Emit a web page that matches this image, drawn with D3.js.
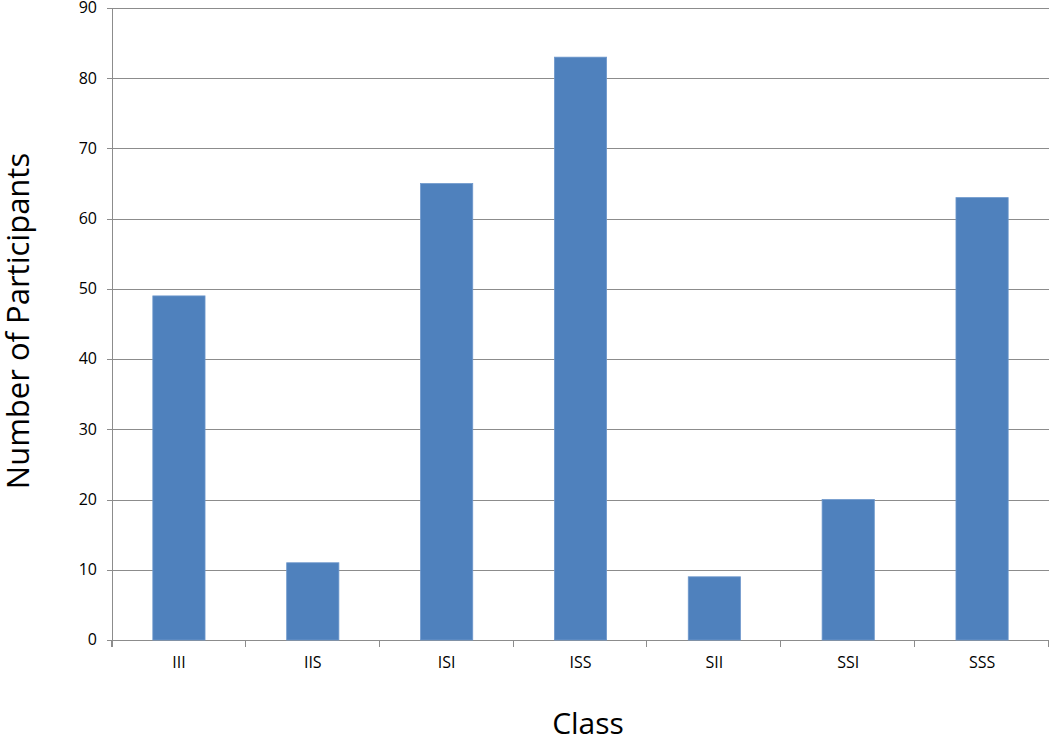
<!DOCTYPE html>
<html>
<head>
<meta charset="utf-8">
<script src="https://cdn.jsdelivr.net/npm/d3@7"></script>
<style>
body { margin: 0; background: #fff; }
text { font-family: "Open Sans", sans-serif; fill: #000; }
</style>
</head>
<body>
<div id="chart"></div>
<script>
var categories = ["III", "IIS", "ISI", "ISS", "SII", "SSI", "SSS"];
var participants = [49, 11, 65, 83, 9, 20, 63];
var yTicks = [0, 10, 20, 30, 40, 50, 60, 70, 80, 90];

var width = 1050,
    height = 744;
var margin = {top: 8, right: 1, bottom: 104, left: 112};

var svg = d3.select("#chart")
    .append("svg")
    .attr("width", width)
    .attr("height", height);

var x = d3.scaleBand()
    .domain(categories)
    .range([margin.left, width - margin.right])
    .paddingInner(0.61)
    .paddingOuter(0.305);

var y = d3.scaleLinear()
    .domain([0, 90])
    .range([height - margin.bottom, margin.top]);

// gridlines
svg.append("g")
    .selectAll("line")
    .data(yTicks)
    .enter().append("line")
    .attr("x1", margin.left - 5)
    .attr("x2", width - margin.right)
    .attr("y1", function (d) { return Math.round(y(d)) + 0.5; })
    .attr("y2", function (d) { return Math.round(y(d)) + 0.5; })
    .attr("stroke", "#8c8c8c")
    .attr("stroke-width", 1);

// y labels
svg.append("g")
    .selectAll("text")
    .data(yTicks)
    .enter().append("text")
    .attr("x", margin.left - 15)
    .attr("y", function (d) { return y(d); })
    .attr("dy", "0.33em")
    .attr("text-anchor", "end")
    .style("font-size", "16px")
    .text(function (d) { return d; });

// bars
svg.append("g")
    .selectAll("rect")
    .data(participants)
    .enter().append("rect")
    .attr("x", function (d, i) { return x(categories[i]); })
    .attr("width", x.bandwidth())
    .attr("y", function (d) { return y(d); })
    .attr("height", function (d) { return y(0) - y(d); })
    .attr("fill", "#4f81bd")
    .attr("stroke", "#6e98cc")
    .attr("stroke-width", 0.8);

// y axis line
svg.append("line")
    .attr("x1", margin.left + 0.5)
    .attr("x2", margin.left + 0.5)
    .attr("y1", y(90))
    .attr("y2", y(0) + 7)
    .attr("stroke", "#8c8c8c");

// x axis ticks at category boundaries
var step = x.step();
var bounds = d3.range(categories.length + 1).map(function (i) { return margin.left + i * step; });
svg.append("g")
    .selectAll("line")
    .data(bounds)
    .enter().append("line")
    .attr("x1", function (d) { return Math.round(d) - 0.5; })
    .attr("x2", function (d) { return Math.round(d) - 0.5; })
    .attr("y1", y(0))
    .attr("y2", y(0) + 7)
    .attr("stroke", "#8c8c8c");

// x labels
svg.append("g")
    .selectAll("text")
    .data(categories)
    .enter().append("text")
    .attr("x", function (d) { return x(d) + x.bandwidth() / 2; })
    .attr("y", y(0) + 28)
    .attr("text-anchor", "middle")
    .style("font-size", "16px")
    .text(function (d) { return d; });

// axis titles
svg.append("text")
    .attr("x", 588)
    .attr("y", 734)
    .attr("text-anchor", "middle")
    .style("font-size", "30px")
    .text("Class");

svg.append("text")
    .attr("transform", "translate(29,321) rotate(-90)")
    .attr("text-anchor", "middle")
    .style("font-size", "31px")
    .text("Number of Participants");
</script>
</body>
</html>
